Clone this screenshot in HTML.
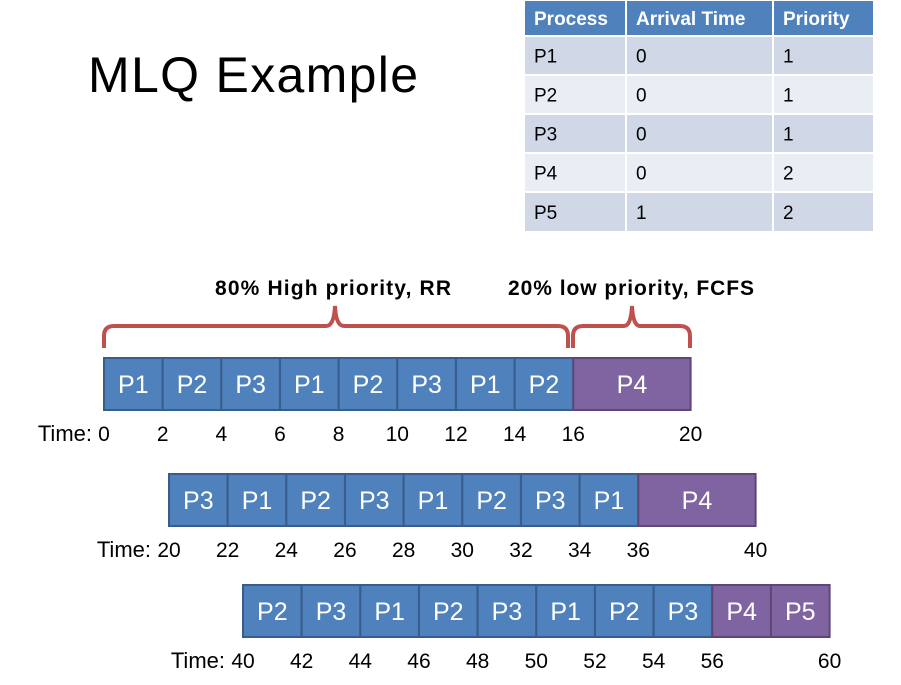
<!DOCTYPE html>
<html><head><meta charset="utf-8"><style>
body{margin:0;width:901px;height:680px;background:#fff;overflow:hidden;font-family:"Liberation Sans",sans-serif}
</style></head><body>
<svg id="s" width="901" height="680" xmlns="http://www.w3.org/2000/svg" style="font-family:'Liberation Sans',sans-serif">
<text x="88" y="92" font-size="50" fill="#000" textLength="330">MLQ Example</text>
<g id="tbl"></g>
<text x="333" y="295" font-size="21" font-weight="bold" text-anchor="middle" textLength="236">80% High priority, RR</text>
<text x="631" y="295" font-size="21" font-weight="bold" text-anchor="middle" textLength="246">20% low priority, FCFS</text>
<path d="M104,348 L104,336 Q104,326 114,326 L326,326 Q334,326 335,306 Q336,326 344,326 L558,326 Q568,326 568,336 L568,348" fill="none" stroke="#c0504d" stroke-width="4"/>
<path d="M573,348 L573,336 Q573,326 583,326 L624,326 Q631,326 632,306 Q633,326 640,326 L680,326 Q690,326 690,336 L690,348" fill="none" stroke="#c0504d" stroke-width="4"/>
<g id="gantt"></g>
</svg>
<script>
const tableHeaders=["Process","Arrival Time","Priority"];
const processes=["P1","P2","P3","P4","P5"];
const arrivals=[0,0,0,0,1];
const priorities=[1,1,1,2,2];
const row1Procs=["P1","P2","P3","P1","P2","P3","P1","P2","P4"];
const row1Durs=[2,2,2,2,2,2,2,2,4];
const row2Procs=["P3","P1","P2","P3","P1","P2","P3","P1","P4"];
const row2Durs=[2,2,2,2,2,2,2,2,4];
const row3Procs=["P2","P3","P1","P2","P3","P1","P2","P3","P4","P5"];
const row3Durs=[2,2,2,2,2,2,2,2,2,2];
const row1Ticks=[0,2,4,6,8,10,12,14,16,20];
const row2Ticks=[20,22,24,26,28,30,32,34,36,40];
const row3Ticks=[40,42,44,46,48,50,52,54,56,60];
const NS="http://www.w3.org/2000/svg";
function mk(p,tag,at,txt){const e=document.createElementNS(NS,tag);for(const k in at)e.setAttribute(k,at[k]);if(txt!==undefined)e.textContent=txt;p.appendChild(e);return e;}
const tbl=document.getElementById('tbl');
const cx=[524,626,773,874];const ry=[0,36,75,114,153,192,232];
const rows=[tableHeaders];for(let i=0;i<processes.length;i++)rows.push([processes[i],String(arrivals[i]),String(priorities[i])]);
rows.forEach((r,i)=>{r.forEach((t,j)=>{
 const fill=i==0?"#4f81bd":(i%2?"#d0d8e8":"#e9edf4");
 const c=mk(tbl,'rect',{x:cx[j],y:ry[i],width:cx[j+1]-cx[j],height:ry[i+1]-ry[i],fill:fill,stroke:"#fff","stroke-width":2});
 
 
 const tx=mk(tbl,'text',{x:cx[j]+10,y:ry[i]+(ry[i+1]-ry[i])/2+7,"font-size":i==0?19:19,"font-weight":i==0?"bold":"normal",fill:i==0?"#fff":"#000"},t);
 
 
});});
const g=document.getElementById('gantt');
const unit=29.33;
function drawRow(procs,durs,ticks,x0,y0,idx){
 const t0=ticks[0];const X=t=>x0+(t-t0)*unit;
 let t=t0;
 procs.forEach((p,i)=>{
  const low=(p==="P4"||p==="P5");
  const r=mk(g,'rect',{x:X(t),y:y0,width:durs[i]*unit,height:52,fill:low?"#8064a2":"#4f81bd",stroke:low?"#5c4776":"#385d8a","stroke-width":2});
  
  
  const tx=mk(g,'text',{x:X(t+durs[i]/2),y:y0+35,"font-size":25,fill:"#fff","text-anchor":"middle"},p);
  
  
  t+=durs[i];
 });
 const ly=y0+83;
 const hw=String(t0).length*6;
 const lab=mk(g,'text',{x:X(t0)-hw-6,y:ly,"font-size":22,"text-anchor":"end"},"Time:");
 
 
 ticks.forEach(v=>{
  const e=mk(g,'text',{x:X(v),y:ly,"font-size":21,"text-anchor":"middle"},String(v));
  
  
 });
}
drawRow(row1Procs,row1Durs,row1Ticks,104,358,1);
drawRow(row2Procs,row2Durs,row2Ticks,169,474,2);
drawRow(row3Procs,row3Durs,row3Ticks,243,585,3);
</script>
</body></html>
